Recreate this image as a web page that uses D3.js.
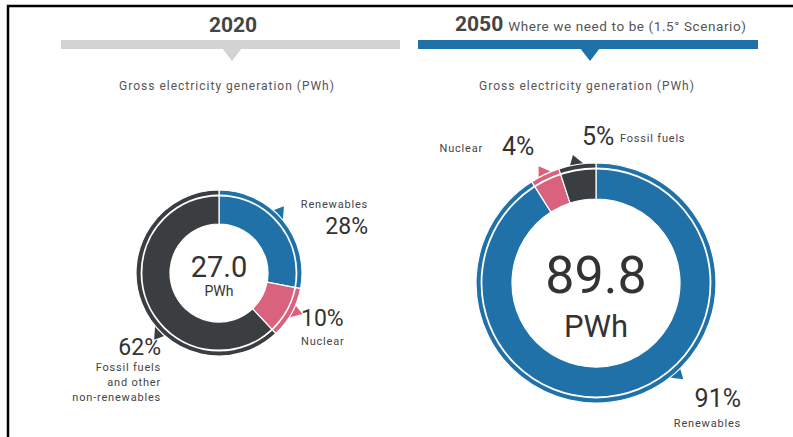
<!DOCTYPE html>
<html><head><meta charset="utf-8">
<script src="https://cdn.jsdelivr.net/npm/d3@7"></script>
<style>
html,body{margin:0;padding:0;background:#fff;}
svg{display:block;font-family:Roboto,"Open Sans",sans-serif;}
</style></head>
<body>
<svg id="c" width="793" height="437"></svg>
<script>
// ---- data ----
const categories = ["Renewables", "Nuclear", "Fossil fuels"];
const years = ["2020", "2050"];
const share2020 = [28, 10, 62];
const share2050 = [91, 4, 5];
const totals = [27.0, 89.8];
const unit = "PWh";
const subtitle = "Gross electricity generation (PWh)";
const scenarioNote = "Where we need to be (1.5° Scenario)";
const labels2020 = ["Renewables", "Nuclear", "Fossil fuels|and other|non-renewables"];
const labels2050 = ["Renewables", "Nuclear", "Fossil fuels"];

const colors = d3.scaleOrdinal().domain(categories).range(["#1f71a8", "#d9627e", "#3b3e41"]);

const svg = d3.select("#c");
const SMALL = 11, LS = 0.8;

// frame
svg.append("path").attr("d", "M8,437 V6 H793").attr("fill", "none").attr("stroke", "#000").attr("stroke-width", 2.5);

// headers
const headers = [
  {x0: 61, x1: 400, cx: 232, sx: 227, color: "#d3d3d3"},
  {x0: 418, x1: 758, cx: 590, sx: 587, color: "#1f71a8"}
];
headers.forEach((h, i) => {
  svg.append("rect").attr("x", h.x0).attr("y", 40).attr("width", h.x1 - h.x0).attr("height", 9).attr("fill", h.color);
  svg.append("path").attr("d", `M${h.cx-10},48 L${h.cx+10},48 L${h.cx},61 Z`).attr("fill", h.color);
  svg.append("text").attr("x", h.sx).attr("y", 90).attr("text-anchor", "middle")
    .attr("font-size", 12).attr("fill", "#555").attr("letter-spacing", 1).text(subtitle);
});
svg.append("text").attr("x", 233).attr("y", 32).attr("text-anchor", "middle")
  .attr("font-size", 21).attr("font-weight", 700).attr("fill", "#444").text(years[0]);
const t2 = svg.append("text").attr("x", 455).attr("y", 31).attr("fill", "#444");
t2.append("tspan").attr("font-size", 21).attr("font-weight", 700).text(years[1]);
t2.append("tspan").attr("dx", 5).attr("font-size", 13.5).attr("letter-spacing", 0.6).attr("fill", "#555").text(scenarioNote);

// donuts
const charts = [
  {shares: share2020, total: totals[0], cx: 219, cy: 273, R: 83, r: 49,
   pointerAngles: [46, 118, 226],
   numSize: 29, unitSize: 14, numY: 277, unitY: 296, pctSize: 23,
   labels: labels2020,
   lab: [
     {x: 368, y: 208, py: 234, anchor: "end", order: "labelFirst"},
     {x: 301, y: 345, py: 326, anchor: "start", order: "pctFirst"},
     {x: 161, y: 371, py: 355, anchor: "end", order: "pctFirst"}
   ]},
  {shares: share2050, total: totals[1], cx: 596, cy: 283, R: 120, r: 84,
   pointerAngles: [139, 335, 351],
   numSize: 52, unitSize: 31, numY: 293, unitY: 337, pctSize: 25,
   labels: labels2050,
   lab: [
     {x: 741, y: 427, py: 407, anchor: "end", order: "pctFirst"},
     {x: 483, y: 152, py: 155, anchor: "end", order: "inlineLabelLeft"},
     {x: 582, y: 142, py: 145, anchor: "start", order: "inlineLabelRight"}
   ]}
];

const pie = d3.pie().sort(null).value(d => d.v).startAngle(0).endAngle(2 * Math.PI);

charts.forEach(ch => {
  const g = svg.append("g").attr("transform", `translate(${ch.cx},${ch.cy})`);
  const data = categories.map((c, i) => ({c, v: ch.shares[i]}));
  const arcs = pie(data);
  const arc = d3.arc().innerRadius(ch.r).outerRadius(ch.R);
  // pointers
  arcs.forEach((a, i) => {
    const ang = ch.pointerAngles[i] * Math.PI / 180;
    const half = 8.5 / ch.R;
    const p1 = d3.pointRadial(ang - half, ch.R - 2);
    const p2 = d3.pointRadial(ang + half, ch.R - 2);
    const p3 = d3.pointRadial(ang - half * 0.3, ch.R + 10);
    g.append("path").attr("d", `M${p1}L${p3}L${p2}Z`).attr("fill", colors(a.data.c));
  });
  g.selectAll("path.seg").data(arcs).join("path").attr("class", "seg")
    .attr("d", arc).attr("fill", d => colors(d.data.c))
    .attr("stroke", "#fff").attr("stroke-width", 1.2);
  g.append("circle").attr("r", ch.R - 5.5).attr("fill", "none").attr("stroke", "#fff").attr("stroke-width", 1.8);
  // center texts
  g.append("text").attr("x", 0).attr("y", ch.numY - ch.cy).attr("text-anchor", "middle")
    .attr("font-size", ch.numSize).attr("fill", "#333").text(d3.format(".1f")(ch.total));
  g.append("text").attr("x", 0).attr("y", ch.unitY - ch.cy).attr("text-anchor", "middle")
    .attr("font-size", ch.unitSize).attr("fill", "#333").text(unit);
  // labels
  ch.lab.forEach((L, i) => {
    const pct = ch.shares[i] + "%";
    const lines = ch.labels[i].split("|");
    const small = (x, y, anchor, t) => svg.append("text").attr("x", x).attr("y", y).attr("text-anchor", anchor)
      .attr("font-size", SMALL).attr("letter-spacing", LS).attr("fill", "#444").text(t);
    const big = (x, y, anchor) => svg.append("text").attr("x", x).attr("y", y).attr("text-anchor", anchor)
      .attr("font-size", ch.pctSize).attr("fill", "#333").text(pct);
    if (L.order === "inlineLabelLeft") {
      small(L.x, L.y, "end", lines[0]);
      big(L.x + 19, L.py, "start");
    } else if (L.order === "inlineLabelRight") {
      big(L.x, L.py, "start");
      small(L.x + 38, L.y, "start", lines[0]);
    } else {
      big(L.x, L.py, L.anchor);
      lines.forEach((ln, k) => small(L.x, L.y + k * 15, L.anchor, ln));
    }
  });
});
</script>
</body></html>
